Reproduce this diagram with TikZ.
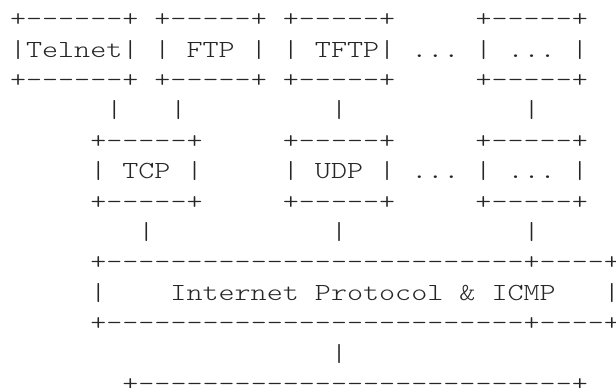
\documentclass[tikz,border=0pt]{standalone}
\usepackage{fontspec}
\setmonofont[FakeStretch=1.246]{lmmonolt10-regular.otf}
\tikzset{ascii/.style={anchor=base west, inner sep=0pt, outer sep=0pt, text=black!85,
		font=\ttfamily\fontsize{12.27bp}{15.2bp}\selectfont}}

\begin{document}
\begin{tikzpicture}[x=8.025bp, y=-15.2bp]
			%%%%% START %%%%%
			\useasboundingbox (-5bp, 13.3bp) rectangle (303bp, -180.7bp);
			
			\node[ascii] (apptop) at (0, 0) {+------+~+-----+~+-----+~~~~~+-----+};
			\node[ascii] (apps) at (0, 1) {|Telnet|~|~FTP~|~|~TFTP|~...~|~...~|};
			\node[ascii] (appbot) at (0, 2) {+------+~+-----+~+-----+~~~~~+-----+};
			\node[ascii] (applinks) at (6, 3) {|~~~|~~~~~~~~~|~~~~~~~~~~~|};
			
			\node[ascii] (tpttop) at (5, 4) {+-----+~~~~~+-----+~~~~~+-----+};
			\node[ascii] (tpt) at (5, 5) {|~TCP~|~~~~~|~UDP~|~...~|~...~|};
			\node[ascii] (tptbot) at (5, 6) {+-----+~~~~~+-----+~~~~~+-----+};
			\node[ascii] (tptlinks) at (8, 7) {|~~~~~~~~~~~|~~~~~~~~~~~|};
			
			\node[ascii] (iptop) at (5, 8) {+--------------------------+----+};
			\node[ascii] (ip) at (5, 9) {|~~~~Internet~Protocol~\&~ICMP~~~|};
			\node[ascii] (ipbot) at (5, 10) {+--------------------------+----+};
			\node[ascii] (iplink) at (20, 11) {|};
			
			\node[ascii] (drvtop) at (7, 12) {+---------------------------+};
			
			%%%%% END %%%%%
\end{tikzpicture}
\end{document}
